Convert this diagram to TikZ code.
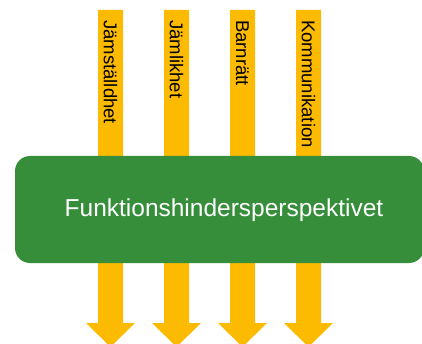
\documentclass[tikz,border=0pt]{standalone}
\usepackage{fontspec}
\setmainfont{Liberation Sans}
\definecolor{arrowyellow}{RGB}{252,186,0}
\definecolor{boxgreen}{RGB}{54,142,58}
\begin{document}
\begin{tikzpicture}[x=1pt,y=-1pt,
  bigarrow/.style={fill=arrowyellow,draw=none},
  arrowlabel/.style={rotate=-90,anchor=west,inner sep=0pt,text=black,font=\fontsize{18.5}{20}\selectfont},
  mainbox/.style={fill=boxgreen,draw=none,rounded corners=15pt}]
\useasboundingbox (0,0) rectangle (422,344);
\foreach \cx/\name/\txt in {110.5/a/Jämställdhet,176.5/b/Jämlikhet,242.5/c/Barnrätt,308.5/d/Kommunikation}{
  \fill[bigarrow] (\cx-12.5,10) -- (\cx+12.5,10) -- (\cx+12.5,323) -- (\cx+24.5,323)
     -- (\cx,347) -- (\cx-24.5,323) -- (\cx-12.5,323) -- cycle;
  \node[arrowlabel] (\name) at (\cx,20) {\txt};
}
\fill[mainbox] (15,156) rectangle (424,263);
\node[text=white,font=\fontsize{24.5}{26}\selectfont,inner sep=0pt] (main) at (224,210) {Funktionshindersperspektivet};
\end{tikzpicture}
\end{document}
